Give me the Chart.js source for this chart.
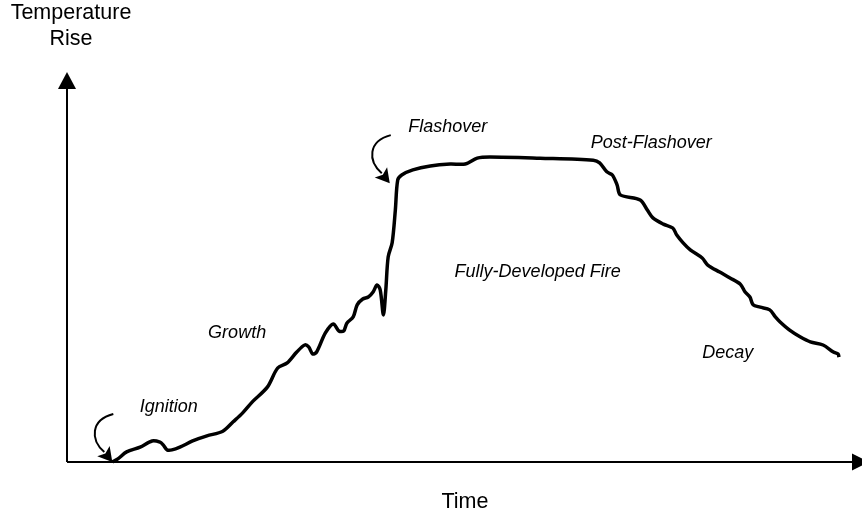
<!DOCTYPE html>
<html>
<head>
<meta charset="utf-8">
<script src="https://cdn.jsdelivr.net/npm/chart.js@4.4.1/dist/chart.umd.min.js"></script>
<style>
html,body{margin:0;padding:0;background:#fff;}
#wrap{width:862px;height:515px;}
</style>
</head>
<body>
<div id="wrap"><canvas id="c" width="862" height="515"></canvas></div>
<script>
// Time (0-100, arbitrary units) and temperature rise (0-100, arbitrary units)
const time = [5.7,6.4,7.5,9.2,10.7,11.7,12.1,12.6,13.2,14.2,15.8,17.6,19.6,20.9,22.1,23.4,25.2,26.5,27.7,28.9,29.9,30.4,30.9,31.4,32.5,33.5,34.2,34.8,35.2,36.0,36.5,37.2,37.9,38.5,39.0,39.4,39.8,40.1,40.4,40.9,41.3,41.6,42.1,43.5,45.7,48.2,50.1,51.6,53.2,59.5,66.2,67.0,67.9,68.6,69.2,69.6,72.1,73.0,73.7,75.0,76.2,76.7,77.5,78.4,79.9,80.6,82.1,83.4,84.7,85.3,85.9,86.3,87.2,88.4,89.1,89.7,90.9,92.2,93.5,95.1,96.4,97.0,97.1];
const tempRise = [0,0.8,2.6,3.8,5.4,5.1,4.4,3.1,3.1,3.8,5.4,6.7,7.9,10.3,12.6,15.6,19.2,24.1,25.4,28.2,30.0,29.5,27.7,28.2,33.1,35.4,33.6,33.6,35.6,37.2,40.3,41.8,42.3,43.6,45.4,44.1,37.7,44.1,52.6,56.2,64.6,72.3,73.6,74.9,75.9,76.4,76.4,77.9,78.2,77.9,77.4,76.7,74.4,73.6,71.0,68.5,67.2,64.6,62.6,61.0,60.0,58.2,56.2,54.4,52.3,50.5,48.7,47.2,45.6,43.6,42.3,40.3,39.7,39.0,37.2,35.9,33.8,32.1,30.8,30.0,28.2,27.7,26.9];

// Stage labels
const stageLabels = ["Ignition","Growth","Flashover","Post-Flashover","Fully-Developed Fire","Decay"];
const stageLabelX = [12.8,21.4,47.9,73.5,59.2,83.1];
const stageLabelY = [12.8,31.8,84.6,80.5,47.4,26.7];

// Pointer arrows (tip positions in data units)
const pointerX = [5.7,40.6];
const pointerY = [0,71.5];

const xTitle = "Time";
const yTitle = ["Temperature","Rise"];

const points = time.map((t,i)=>({x:t,y:tempRise[i]}));

const decorPlugin = {
  id:'decor',
  afterDraw(chart){
    const ctx = chart.ctx;
    const xs = chart.scales.x, ys = chart.scales.y;
    const x0 = xs.getPixelForValue(0), y0 = ys.getPixelForValue(0);
    const xEnd = xs.getPixelForValue(100), yEnd = ys.getPixelForValue(100);
    ctx.save();
    ctx.strokeStyle='#000'; ctx.fillStyle='#000';
    // axes
    ctx.lineWidth=2;
    ctx.beginPath();
    ctx.moveTo(x0,y0); ctx.lineTo(x0,yEnd+16);
    ctx.moveTo(x0,y0); ctx.lineTo(xEnd-10,y0);
    ctx.stroke();
    // y arrowhead
    ctx.beginPath();
    ctx.moveTo(x0,yEnd); ctx.lineTo(x0-9,yEnd+17); ctx.lineTo(x0+9,yEnd+17); ctx.closePath(); ctx.fill();
    // x arrowhead
    ctx.beginPath();
    ctx.moveTo(xEnd+7,y0); ctx.lineTo(xEnd-10,y0-8.5); ctx.lineTo(xEnd-10,y0+8.5); ctx.closePath(); ctx.fill();

    // pointer arrows
    pointerX.forEach((px,i)=>{
      const tx = xs.getPixelForValue(px), ty = ys.getPixelForValue(pointerY[i]);
      ctx.lineWidth=2;
      ctx.beginPath();
      ctx.moveTo(tx+1,ty-48);
      ctx.bezierCurveTo(tx-22,ty-42, tx-22,ty-22, tx-8,ty-10);
      ctx.stroke();
      const ang = Math.atan2(11,9);
      const L=14, W=8;
      const bx = tx - L*Math.cos(ang), by = ty - L*Math.sin(ang);
      ctx.beginPath();
      ctx.moveTo(tx,ty);
      ctx.lineTo(bx + W*Math.sin(ang), by - W*Math.cos(ang));
      ctx.lineTo(tx - (L-3)*Math.cos(ang), ty - (L-3)*Math.sin(ang));
      ctx.lineTo(bx - W*Math.sin(ang), by + W*Math.cos(ang));
      ctx.closePath(); ctx.fill();
    });

    // stage labels
    ctx.font = 'italic 18px "Liberation Sans", Arial, sans-serif';
    ctx.textAlign='center'; ctx.textBaseline='alphabetic';
    stageLabels.forEach((s,i)=>{
      ctx.fillText(s, xs.getPixelForValue(stageLabelX[i]), ys.getPixelForValue(stageLabelY[i]));
    });

    // axis titles
    ctx.font = '21.5px "Liberation Sans", Arial, sans-serif';
    ctx.fillText(xTitle, (x0+xEnd)/2 + 0.5, y0+46);
    ctx.fillText(yTitle[0], x0+4, 19);
    ctx.fillText(yTitle[1], x0+4, 45);
    ctx.restore();
  }
};

new Chart(document.getElementById('c'),{
  type:'line',
  data:{datasets:[{
    data:points,
    borderColor:'#000',
    borderWidth:3.5,
    pointRadius:0,
    tension:0.3,
    fill:false,
    clip:false
  }]},
  options:{
    responsive:false,
    animation:false,
    layout:{padding:{left:67,top:72,right:0,bottom:53}},
    plugins:{legend:{display:false},tooltip:{enabled:false}},
    scales:{
      x:{type:'linear',min:0,max:100,display:false},
      y:{type:'linear',min:0,max:100,display:false}
    }
  },
  plugins:[decorPlugin]
});
</script>
</body>
</html>
